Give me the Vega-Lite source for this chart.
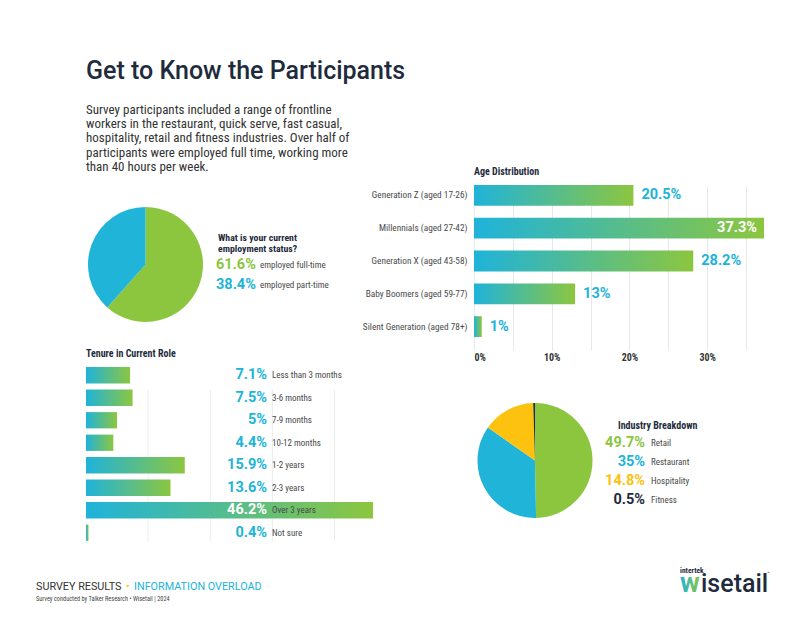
{
  "$schema": "https://vega.github.io/schema/vega-lite/v6.json",
  "background": "white",
  "padding": {"left": 36, "top": 58, "right": 20, "bottom": 10},
  "config": {
    "font": "Roboto Condensed, Roboto",
    "view": {"stroke": null},
    "axis": {"labelFont": "Roboto Condensed, Roboto"}
  },
  "datasets": {
    "employment": [
      {"status": "Full-time", "label": "employed full-time", "share": 0.616},
      {"status": "Part-time", "label": "employed part-time", "share": 0.384}
    ],
    "age": [
      {"generation": "Generation Z (aged 17-26)", "share": 0.205},
      {"generation": "Millennials (aged 27-42)", "share": 0.373},
      {"generation": "Generation X (aged 43-58)", "share": 0.282},
      {"generation": "Baby Boomers (aged 59-77)", "share": 0.13},
      {"generation": "Silent Generation (aged 78+)", "share": 0.01}
    ],
    "tenure": [
      {"tenure": "Less than 3 months", "share": 0.071},
      {"tenure": "3-6 months", "share": 0.075},
      {"tenure": "7-9 months", "share": 0.05},
      {"tenure": "10-12 months", "share": 0.044},
      {"tenure": "1-2 years", "share": 0.159},
      {"tenure": "2-3 years", "share": 0.136},
      {"tenure": "Over 3 years", "share": 0.462},
      {"tenure": "Not sure", "share": 0.004}
    ],
    "industry": [
      {"industry": "Retail", "share": 0.497},
      {"industry": "Restaurant", "share": 0.35},
      {"industry": "Hospitality", "share": 0.148},
      {"industry": "Fitness", "share": 0.005}
    ]
  },
  "title": {
    "text": "Get to Know the Participants",
    "subtitle": [
      "Survey participants included a range of frontline",
      "workers in the restaurant, quick serve, fast casual,",
      "hospitality, retail and fitness industries. Over half of",
      "participants were employed full time, working more",
      "than 40 hours per week."
    ],
    "anchor": "start",
    "frame": "group",
    "font": "Roboto",
    "fontSize": 25,
    "fontWeight": 500,
    "color": "#1e2b3c",
    "subtitleFont": "Roboto Condensed, Roboto",
    "subtitleFontSize": 13,
    "subtitleColor": "#333333",
    "subtitleLineHeight": 14.3,
    "subtitlePadding": 20,
    "offset": -7
  },
  "resolve": {"scale": {"color": "independent"}},
  "columns": 3,
  "bounds": "flush",
  "spacing": {"row": 14, "column": 4},
  "concat": [
    {
      "width": 119,
      "height": 171,
      "data": {"name": "employment"},
      "mark": {"type": "arc", "outerRadius": 57.5},
      "encoding": {
        "theta": {"field": "share", "type": "quantitative", "stack": true},
        "order": {"field": "share", "sort": "descending"},
        "color": {
          "field": "status",
          "type": "nominal",
          "scale": {"domain": ["Full-time", "Part-time"], "range": ["#8cc63f", "#20b4d9"]},
          "legend": null
        }
      }
    },
    {
      "width": 261,
      "height": 171,
      "layer": [
        {
          "data": {"values": [{}]},
          "mark": {
            "type": "text",
            "text": ["What is your current", "employment status?"],
            "align": "left",
            "baseline": "middle",
            "fontSize": 9.8,
            "fontWeight": "bold",
            "lineHeight": 11,
            "color": "#1e2b3c"
          },
          "encoding": {"x": {"value": 9}, "y": {"value": 59}}
        },
        {
          "data": {"name": "employment"},
          "mark": {"type": "text", "font": "Roboto", "align": "left", "baseline": "middle", "fontSize": 14.5, "fontWeight": "bold"},
          "encoding": {
            "x": {"value": 7},
            "y": {"field": "status", "type": "nominal", "scale": {"type": "point", "range": [86, 106], "padding": 0}, "axis": null},
            "text": {"field": "share", "type": "quantitative", "format": ".1~%"},
            "color": {
              "field": "status",
              "type": "nominal",
              "scale": {"domain": ["Full-time", "Part-time"], "range": ["#8cc63f", "#20b4d9"]},
              "legend": null
            }
          }
        },
        {
          "data": {"name": "employment"},
          "mark": {"type": "text", "align": "left", "baseline": "middle", "fontSize": 9, "color": "#4a4a4a"},
          "encoding": {
            "x": {"value": 51},
            "y": {"field": "status", "type": "nominal", "scale": {"type": "point", "range": [86, 106], "padding": 0}, "axis": null},
            "text": {"field": "label", "type": "nominal"}
          }
        }
      ]
    },
    {
      "width": 290,
      "height": 171,
      "title": {
        "text": "Age Distribution",
        "anchor": "start",
        "frame": "group",
        "fontSize": 10,
        "fontWeight": "bold",
        "color": "#1e2b3c",
        "offset": 2
      },
      "data": {"name": "age"},
      "encoding": {
        "y": {
          "field": "generation",
          "type": "nominal",
          "sort": null,
          "scale": {"range": [0, 164], "paddingInner": 0.366, "paddingOuter": 0.183},
          "axis": {"title": null, "ticks": false, "domain": false, "labelFontSize": 9.3, "labelColor": "#4a4a4a", "labelPadding": 7, "labelLimit": 200}
        },
        "x": {
          "field": "share",
          "type": "quantitative",
          "scale": {"domain": [0, 0.373], "nice": false},
          "axis": {
            "title": null,
            "values": [0, 0.05, 0.1, 0.15, 0.2, 0.25, 0.3, 0.35],
            "format": ".0%",
            "labelExpr": "datum.label == '0%' || datum.label == '10%' || datum.label == '20%' || datum.label == '30%' ? datum.label : ''",
            "grid": true,
            "gridColor": "#e8e8e8",
            "domain": false,
            "ticks": false,
            "labelFontWeight": "bold",
            "labelFontSize": 10,
            "labelColor": "#333333",
            "labelPadding": 2
          }
        }
      },
      "layer": [
        {
          "mark": {
            "type": "bar",
            "color": {
              "gradient": "linear",
              "x1": 0, "y1": 0, "x2": 1, "y2": 0,
              "stops": [{"offset": 0, "color": "#1fb3da"}, {"offset": 1, "color": "#8cc63f"}]
            }
          }
        },
        {
          "transform": [{"filter": "datum.share < 0.3"}],
          "mark": {"type": "text", "font": "Roboto", "align": "left", "baseline": "middle", "dx": 8, "fontSize": 14.5, "fontWeight": "bold", "color": "#20b4d9"},
          "encoding": {"text": {"field": "share", "type": "quantitative", "format": ".1~%"}}
        },
        {
          "transform": [{"filter": "datum.share >= 0.3"}],
          "mark": {"type": "text", "font": "Roboto", "align": "right", "baseline": "middle", "dx": -7, "fontSize": 14.5, "fontWeight": "bold", "color": "white"},
          "encoding": {"text": {"field": "share", "type": "quantitative", "format": ".1~%"}}
        }
      ]
    },
    {
      "width": 119,
      "height": 193,
      "title": {
        "text": "Tenure in Current Role",
        "anchor": "start",
        "frame": "group",
        "fontSize": 10,
        "fontWeight": "bold",
        "color": "#1e2b3c",
        "offset": 5
      },
      "data": {"name": "tenure"},
      "encoding": {
        "y": {
          "field": "tenure",
          "type": "nominal",
          "sort": null,
          "scale": {
            "domain": ["Less than 3 months", "3-6 months", "7-9 months", "10-12 months", "1-2 years", "2-3 years", "Over 3 years", "Not sure"],
            "range": [0, 180],
            "paddingInner": 0.276,
            "paddingOuter": 0.138
          },
          "axis": null
        },
        "x": {
          "field": "share",
          "type": "quantitative",
          "scale": {"domain": [0, 0.462], "range": [0, 287], "nice": false},
          "axis": null
        }
      },
      "layer": [
        {
          "data": {"values": [{"share": 0.1}, {"share": 0.2}, {"share": 0.3}, {"share": 0.4}]},
          "mark": {"type": "rule", "color": "#ececec", "strokeWidth": 1},
          "encoding": {
            "y": {"datum": "3-6 months", "bandPosition": 0},
            "y2": {"datum": "Not sure", "bandPosition": 1}
          }
        },
        {
          "mark": {
            "type": "bar",
            "color": {
              "gradient": "linear",
              "x1": 0, "y1": 0, "x2": 1, "y2": 0,
              "stops": [{"offset": 0, "color": "#1fb3da"}, {"offset": 1, "color": "#8cc63f"}]
            }
          }
        },
        {
          "mark": {"type": "text", "font": "Roboto", "align": "right", "baseline": "middle", "fontSize": 14.5, "fontWeight": "bold"},
          "encoding": {
            "x": {"value": 181},
            "text": {"field": "share", "type": "quantitative", "format": ".1~%"},
            "color": {"condition": {"test": "datum.share > 0.4", "value": "white"}, "value": "#20b4d9"}
          }
        },
        {
          "mark": {"type": "text", "align": "left", "baseline": "middle", "fontSize": 9, "color": "#4a4a4a"},
          "encoding": {
            "x": {"value": 186},
            "text": {"field": "tenure", "type": "nominal"}
          }
        }
      ]
    },
    {
      "width": 261,
      "height": 193,
      "data": {"values": []},
      "mark": {"type": "text"},
      "encoding": {}
    },
    {
      "width": 122,
      "height": 193,
      "layer": [
        {
          "data": {"name": "industry"},
          "mark": {"type": "arc", "outerRadius": 57.5},
          "encoding": {
            "theta": {"field": "share", "type": "quantitative", "stack": true},
            "order": {"field": "share", "sort": "descending"},
            "color": {
              "field": "industry",
              "type": "nominal",
              "scale": {"domain": ["Retail", "Restaurant", "Hospitality", "Fitness"], "range": ["#8cc63f", "#20b4d9", "#fdc20f", "#1e2b3c"]},
              "legend": null
            }
          }
        },
        {
          "data": {"values": [{}]},
          "mark": {"type": "text", "text": "Industry Breakdown", "align": "left", "baseline": "middle", "fontSize": 10, "fontWeight": "bold", "color": "#1e2b3c"},
          "encoding": {"x": {"value": 144}, "y": {"value": 62}}
        },
        {
          "data": {"name": "industry"},
          "mark": {"type": "text", "font": "Roboto", "align": "right", "baseline": "middle", "fontSize": 14.5, "fontWeight": "bold"},
          "encoding": {
            "x": {"value": 171},
            "y": {"field": "industry", "type": "nominal", "sort": null, "scale": {"type": "point", "range": [79, 136], "padding": 0}, "axis": null},
            "text": {"field": "share", "type": "quantitative", "format": ".1~%"},
            "color": {
              "field": "industry",
              "type": "nominal",
              "scale": {"domain": ["Retail", "Restaurant", "Hospitality", "Fitness"], "range": ["#8cc63f", "#20b4d9", "#fdc20f", "#1e2b3c"]},
              "legend": null
            }
          }
        },
        {
          "data": {"name": "industry"},
          "mark": {"type": "text", "align": "left", "baseline": "middle", "fontSize": 9, "color": "#4a4a4a"},
          "encoding": {
            "x": {"value": 177},
            "y": {"field": "industry", "type": "nominal", "sort": null, "scale": {"type": "point", "range": [79, 136], "padding": 0}, "axis": null},
            "text": {"field": "industry", "type": "nominal"}
          }
        }
      ]
    },
    {
      "width": 119,
      "height": 36,
      "data": {"values": [{}]},
      "layer": [
        {
          "mark": {"type": "text", "font": "Roboto", "text": "SURVEY RESULTS", "align": "left", "baseline": "middle", "fontSize": 10.8, "color": "#333333"},
          "encoding": {"x": {"value": -50}, "y": {"value": 16}}
        },
        {
          "mark": {"type": "text", "font": "Roboto", "text": "•", "align": "left", "baseline": "middle", "fontSize": 10.8, "color": "#fdc20f"},
          "encoding": {"x": {"value": 40}, "y": {"value": 16}}
        },
        {
          "mark": {"type": "text", "font": "Roboto", "text": "INFORMATION OVERLOAD", "align": "left", "baseline": "middle", "fontSize": 10.8, "color": "#20b4d9"},
          "encoding": {"x": {"value": 48}, "y": {"value": 16}}
        },
        {
          "mark": {"type": "text", "text": "Survey conducted by Talker Research • Wisetail | 2024", "align": "left", "baseline": "middle", "fontSize": 6.3, "color": "#444444"},
          "encoding": {"x": {"value": -50}, "y": {"value": 28}}
        },
        {
          "mark": {"type": "text", "text": "intertek", "align": "left", "baseline": "middle", "fontSize": 7.5, "fontWeight": "bold", "color": "#1e2b3c"},
          "encoding": {"x": {"value": 594}, "y": {"value": 0}}
        },
        {
          "mark": {
            "type": "text",
            "font": "Roboto",
            "text": "w",
            "align": "left",
            "baseline": "alphabetic",
            "fontSize": 27,
            "fontWeight": "bold",
            "color": {
              "gradient": "linear",
              "x1": 0, "y1": 0, "x2": 1, "y2": 0,
              "stops": [{"offset": 0, "color": "#1fb3da"}, {"offset": 1, "color": "#8cc63f"}]
            }
          },
          "encoding": {"x": {"value": 594}, "y": {"value": 21}}
        },
        {
          "mark": {"type": "text", "font": "Roboto", "text": "isetail", "align": "left", "baseline": "alphabetic", "fontSize": 25, "fontWeight": 500, "color": "#1e2b3c"},
          "encoding": {"x": {"value": 615}, "y": {"value": 21}}
        },
        {
          "mark": {"type": "text", "text": "™", "align": "left", "baseline": "middle", "fontSize": 5, "color": "#1e2b3c"},
          "encoding": {"x": {"value": 681}, "y": {"value": 2}}
        }
      ]
    }
  ]
}
